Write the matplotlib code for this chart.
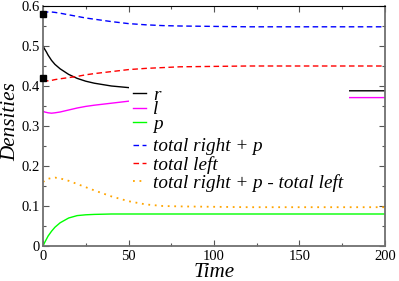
"""
Densities vs Time
"""

import matplotlib
matplotlib.use('Agg')
import matplotlib.pyplot as plt
from matplotlib.ticker import MultipleLocator, FormatStrFormatter

# dados
t = [0, 1, 2, 3, 5, 7, 10, 15, 20, 25, 30, 40, 50, 60, 70, 80, 100, 120, 140, 160, 180, 200]
r = [0.500, 0.492, 0.485, 0.477, 0.464, 0.454, 0.443, 0.429, 0.419, 0.412, 0.407, 0.400, 0.396,
     0.393, 0.391, 0.390, 0.389, 0.388, 0.388, 0.388, 0.388, 0.388]
l = [0.337, 0.335, 0.334, 0.333, 0.332, 0.333, 0.335, 0.340, 0.345, 0.349, 0.352, 0.357, 0.362,
     0.365, 0.367, 0.369, 0.370, 0.371, 0.371, 0.371, 0.371, 0.371]
p = [0.000, 0.009, 0.017, 0.025, 0.037, 0.047, 0.058, 0.070, 0.076, 0.078, 0.079, 0.080, 0.080,
     0.080, 0.080, 0.080, 0.080, 0.080, 0.080, 0.080, 0.080, 0.080]
total_right_p = [0.582, 0.584, 0.585, 0.585, 0.585, 0.584, 0.582, 0.578, 0.574, 0.570, 0.567, 0.561,
                 0.556, 0.553, 0.551, 0.550, 0.549, 0.548, 0.548, 0.548, 0.548, 0.548]
total_left = [0.415, 0.414, 0.413, 0.413, 0.414, 0.416, 0.418, 0.421, 0.424, 0.428, 0.431, 0.436,
              0.441, 0.444, 0.446, 0.448, 0.449, 0.450, 0.450, 0.450, 0.450, 0.450]
diff = [0.160, 0.163, 0.166, 0.168, 0.170, 0.171, 0.169, 0.163, 0.155, 0.147, 0.139, 0.124, 0.112,
        0.104, 0.100, 0.099, 0.098, 0.097, 0.097, 0.097, 0.097, 0.097]
# pontos iniciais (quadrados pretos)
t0 = [0, 0]
dens0 = [0.58, 0.42]

plt.rcParams['font.family'] = 'Liberation Serif'

fig = plt.figure(figsize=(3.99, 2.81), dpi=100)
ax = fig.add_axes([43/399, 1-246/281, 342/399, 240/281])

l1, = ax.plot(t, r, color='black', lw=1, label='r')
l2, = ax.plot(t, l, color='#ff00ff', lw=1, label='l')
l3, = ax.plot(t, p, color='#00ff00', lw=1, label='p')
l4, = ax.plot(t, total_right_p, color='#0000ff', lw=1, ls=(0, (4, 2.5)), label='total right + p')
l5, = ax.plot(t, total_left, color='#ff0000', lw=1, ls=(0, (4, 2.5)), label='total left')
l6, = ax.plot(t, diff, color='#ffa500', lw=1.3, ls=(0, (1, 2.6)), label='total right + p - total left')
ax.plot(t0, dens0, 's', color='black', ms=5, clip_on=False, zorder=5)

ax.set_xlim(0, 200)
ax.set_ylim(0, 0.6)
ax.xaxis.set_major_locator(MultipleLocator(50))
ax.xaxis.set_minor_locator(MultipleLocator(25))
ax.yaxis.set_major_locator(MultipleLocator(0.1))
ax.yaxis.set_minor_locator(MultipleLocator(0.05))
ax.xaxis.set_major_formatter(FormatStrFormatter('%g'))
ax.yaxis.set_major_formatter(FormatStrFormatter('%g'))
ax.tick_params(which='both', direction='in', top=True, right=True, labelsize=10.5, color='#555555')
ax.tick_params(which='major', length=4.5, width=0.8)
ax.tick_params(which='minor', length=2.3, width=0.8)
ax.tick_params(axis='x', pad=3)
ax.tick_params(axis='y', pad=2)
for s in ['left', 'bottom', 'right']:
    ax.spines[s].set_color('#707070')
    ax.spines[s].set_linewidth(1.3)
ax.spines['top'].set_color('black')
ax.spines['top'].set_linewidth(0.8)

ax.set_xlabel('Time', fontsize=15.2, style='italic', labelpad=0)
ax.set_ylabel('Densities', fontsize=15.2, style='italic')
ax.yaxis.set_label_coords(-0.066, 0.519)

leg_font = {'family': 'Liberation Serif', 'style': 'italic', 'size': 13.8}
leg1 = ax.legend(handles=[l1, l2, l3], loc='upper left', bbox_to_anchor=(86/342, 161/240, 220/342, 0.01),
                 mode='expand', prop=leg_font, frameon=True, framealpha=1, edgecolor='none',
                 fancybox=False, borderpad=0.2, borderaxespad=0, handlelength=0.68,
                 handletextpad=0.37, labelspacing=-0.15)
ax.add_artist(leg1)
leg2 = ax.legend(handles=[l4, l5, l6], loc='upper left', bbox_to_anchor=(86/342, 112/240),
                 prop=leg_font, frameon=False, borderpad=0.2, borderaxespad=0,
                 handlelength=0.68, handletextpad=0.37, labelspacing=0.02)

fig.savefig('out.png', dpi=100)
